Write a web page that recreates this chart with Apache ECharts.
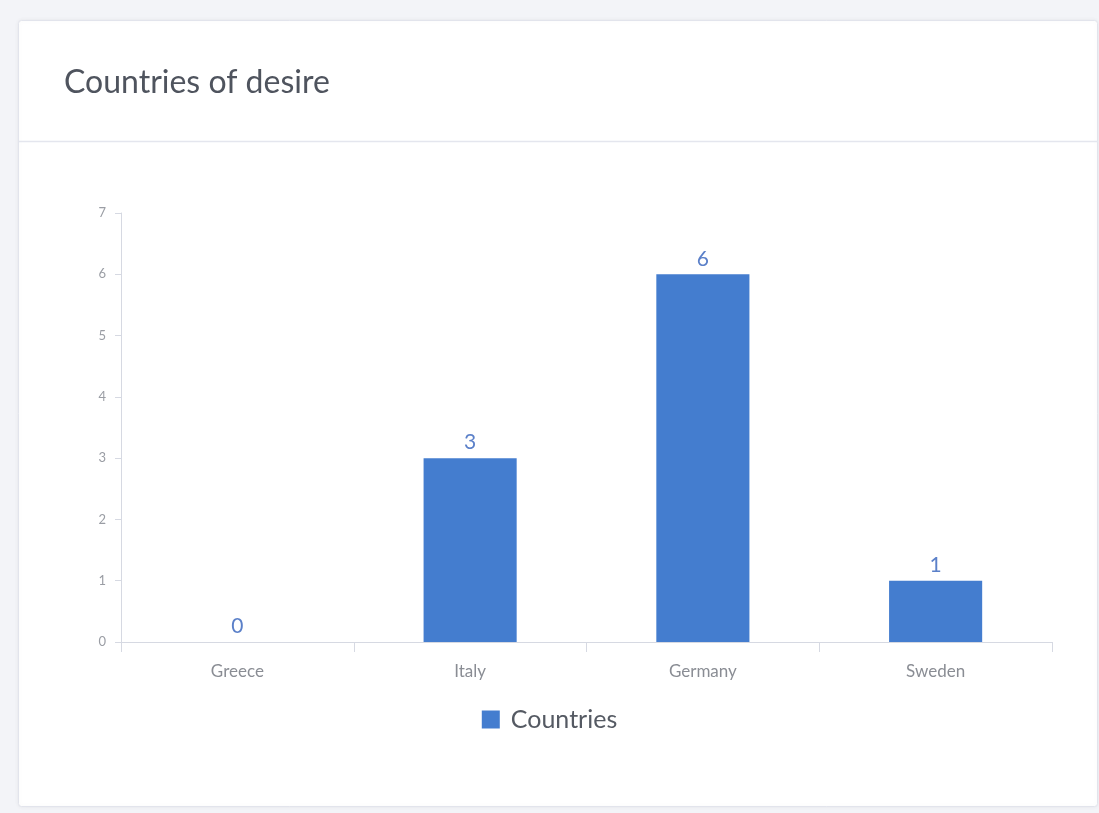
<!DOCTYPE html>
<html>
<head>
<meta charset="utf-8">
<script src="https://cdn.jsdelivr.net/npm/echarts@6/dist/echarts.min.js"></script>
<style>
  html, body { margin: 0; padding: 0; background: #f3f4f8; }
  #chart { width: 1099px; height: 813px; }
</style>
</head>
<body>
<div id="chart"></div>
<script>
// Countries of desire — number of votes per country
const categories = ['Greece', 'Italy', 'Germany', 'Sweden'];
const counts = [0, 3, 6, 1];
const yTicks = [0, 1, 2, 3, 4, 5, 6, 7];
const seriesName = 'Countries';
const chartTitle = 'Countries of desire';

const chart = echarts.init(document.getElementById('chart'), null, { renderer: 'canvas' });

const option = {
  backgroundColor: '#f3f4f8',
  animation: false,
  textStyle: { fontFamily: 'Lato, "Open Sans", sans-serif' },
  graphic: [
    // card
    {
      type: 'rect', z: -10, silent: true,
      shape: { x: 18.5, y: 20.5, width: 1079, height: 786, r: 3 },
      style: { fill: '#ffffff', stroke: '#e2e4ec', lineWidth: 1,
               shadowBlur: 4, shadowColor: 'rgba(0,0,0,0.06)' }
    },
    // header separator
    {
      type: 'line', z: -9, silent: true,
      shape: { x1: 19, y1: 141.5, x2: 1098, y2: 141.5 },
      style: { stroke: '#e4e6ee', lineWidth: 1.5 }
    }
  ],
  title: {
    text: chartTitle,
    left: 59,
    top: 62,
    textStyle: { fontFamily: 'Lato, sans-serif', fontSize: 32, fontWeight: 'normal', color: '#4f545e' }
  },
  legend: {
    data: [seriesName],
    top: 702,
    left: 'center',
    icon: 'rect',
    itemWidth: 18,
    itemHeight: 18,
    itemGap: 12,
    textStyle: { fontSize: 25, color: '#555a63', fontFamily: 'Lato, sans-serif', padding: [0, 0, 0, 6] }
  },
  grid: { left: 121, right: 47, top: 213, bottom: 171, containLabel: false },
  xAxis: {
    type: 'category',
    data: categories,
    axisLine: { lineStyle: { color: '#d6d9e2', width: 1 } },
    axisTick: { show: true, length: 10, lineStyle: { color: '#d6d9e2' } },
    axisLabel: { color: '#8a8d94', fontSize: 17, margin: 21 }
  },
  yAxis: {
    type: 'value',
    min: yTicks[0],
    max: yTicks[yTicks.length - 1],
    interval: 1,
    splitLine: { show: false },
    axisLine: { show: true, lineStyle: { color: '#d6d9e2', width: 1 } },
    axisTick: { show: true, length: 6, lineStyle: { color: '#d6d9e2' } },
    axisLabel: { color: '#9a9da4', fontSize: 13, margin: 15 }
  },
  series: [{
    name: seriesName,
    type: 'bar',
    data: counts,
    barWidth: '40%',
    itemStyle: { color: '#447dcf' },
    label: {
      show: true,
      position: 'top',
      distance: 5,
      color: '#5b80c9',
      fontSize: 21
    }
  }]
};

chart.setOption(option);
</script>
</body>
</html>
